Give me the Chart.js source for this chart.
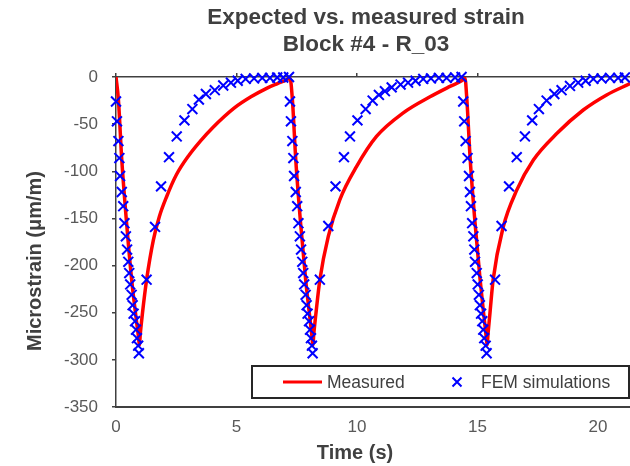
<!DOCTYPE html>
<html>
<head>
<meta charset="utf-8">
<title>Expected vs. measured strain</title>
<script src="https://cdn.jsdelivr.net/npm/chart.js@4.4.1/dist/chart.umd.min.js"></script>
<style>
    html, body { margin: 0; padding: 0; background: #fff; }
    canvas { display: block; }
</style>
</head>
<body>
<canvas id="strainChart" width="630" height="466"></canvas>
<script>
// Texts
const titleLines = ['Expected vs. measured strain', 'Block #4 - R_03']
const xTitle = 'Time (s)'
const yTitle = 'Microstrain (μm/m)'
const seriesNames = ['Measured', 'FEM simulations']

// Axis ranges
const xMin = 0
const xMax = 21.33
const xStep = 5
const yMin = -350
const yMax = 0
const yStep = 50

// Measured strain (red line), three load cycles
const measuredTime = [
    0.00, 0.10, 0.24, 0.44, 0.65, 0.86, 0.93, 0.97, 1.01, 1.10, 1.27, 1.55, 1.80, 2.10, 2.50, 3.00, 3.50, 4.00, 4.90, 5.60, 6.25, 6.70, 7.08, 7.22,
    7.32, 7.46, 7.66, 7.87, 8.07, 8.13, 8.17, 8.21, 8.30, 8.46, 8.81, 9.29, 9.98, 10.81, 11.92, 13.03, 13.86, 14.34, 14.48,
    14.56, 14.70, 14.90, 15.11, 15.30, 15.36, 15.40, 15.44, 15.52, 15.65, 16.07, 16.63, 17.32, 18.29, 19.39, 20.36, 21.33
]
const measuredStrain = [
    0, -24, -88, -155, -215, -261, -275, -284, -272, -250, -215, -173, -148, -127, -104, -84, -68, -54, -33, -21, -12, -7, -3, -1,
    -24, -88, -155, -215, -261, -275, -284, -272, -250, -215, -169, -130, -95, -63, -38, -21, -10, -4, -1,
    -24, -88, -155, -215, -261, -275, -284, -272, -250, -215, -159, -120, -88, -60, -35, -19, -7
]

// FEM simulations (blue crosses)
const femTime = [
    0.00, 0.04, 0.10, 0.14, 0.17, 0.24, 0.30, 0.35, 0.41, 0.46, 0.51, 0.55, 0.59, 0.65, 0.69, 0.73, 0.79, 0.83, 0.87, 0.92, 0.95,
    1.27, 1.62, 1.87, 2.20, 2.52, 2.84, 3.17, 3.44, 3.73, 4.10, 4.45, 4.77, 5.05, 5.38, 5.73, 6.07, 6.39, 6.69, 6.94, 7.18,
    7.22, 7.26, 7.32, 7.36, 7.39, 7.46, 7.52, 7.57, 7.63, 7.68, 7.73, 7.77, 7.81, 7.87, 7.91, 7.95, 8.01, 8.05, 8.09, 8.13, 8.16,
    8.46, 8.81, 9.11, 9.46, 9.71, 10.02, 10.36, 10.65, 10.91, 11.16, 11.44, 11.81, 12.12, 12.43, 12.75, 13.07, 13.40, 13.72, 14.07, 14.34,
    14.41, 14.45, 14.51, 14.59, 14.65, 14.69, 14.73, 14.78, 14.83, 14.87, 14.90, 14.97, 15.01, 15.06, 15.10, 15.15, 15.20, 15.24, 15.28, 15.34, 15.38,
    15.73, 16.00, 16.31, 16.63, 16.97, 17.27, 17.55, 17.87, 18.19, 18.49, 18.84, 19.18, 19.49, 19.81, 20.15, 20.50, 20.84, 21.12
]
const femStrain = [
    -26, -47, -68, -86, -105, -122, -137, -155, -169, -183, -196, -208, -220, -231, -242, -251, -259, -268, -277, -285, -293,
    -215, -159, -116, -85, -63, -46, -34, -24, -18, -14, -9, -6, -4, -2, -1.5, -1, -1, -0.5, -0.5, 0,
    -26, -47, -68, -86, -105, -122, -137, -155, -169, -183, -196, -208, -220, -231, -242, -251, -259, -268, -277, -285, -293,
    -215, -158, -116, -85, -63, -46, -34, -25, -19, -15, -11, -8, -6, -4, -2, -1.5, -1, -1, -0.5, 0,
    -26, -47, -68, -86, -105, -122, -137, -155, -169, -183, -196, -208, -220, -231, -242, -251, -259, -268, -277, -285, -293,
    -215, -158, -116, -85, -63, -46, -34, -25, -18, -14, -9.5, -6, -4, -2, -1.5, -1, -1, -0.5
]

// Styles
const FONT = '"Liberation Sans", Arial, sans-serif'
const red = '#ff0000'
const blue = '#0000ff'
const axisColor = '#404040'
const titleColor = '#404040'
const tickColor = '#595959'

const toPoints = (xs, ys) => xs.map((x, i) => ({ x: x, y: ys[i] }))

// Titles, axis titles and the boxed legend inside the plot
const decorPlugin = {
    id: 'decor',
    afterDraw(chart) {
        const ctx = chart.ctx
        const area = chart.chartArea
        ctx.save()

        // chart title
        ctx.fillStyle = titleColor
        ctx.textAlign = 'center'
        ctx.textBaseline = 'middle'
        ctx.font = 'bold 22.5px ' + FONT
        ctx.fillText(titleLines[0], 366, 18)
        ctx.fillText(titleLines[1], 366, 45)

        // axis titles
        ctx.font = 'bold 20px ' + FONT
        ctx.fillText(xTitle, 355, 453)
        ctx.translate(35, 261)
        ctx.rotate(-Math.PI / 2)
        ctx.fillText(yTitle, 0, 0)
        ctx.setTransform(1, 0, 0, 1, 0, 0)

        // legend
        const lx = 252, ly = 366, lw = area.right - 1 - 252, lh = 32
        ctx.fillStyle = '#ffffff'
        ctx.fillRect(lx, ly, lw, lh)
        ctx.strokeStyle = '#262626'
        ctx.lineWidth = 2
        ctx.strokeRect(lx, ly, lw, lh)

        const cy = ly + lh / 2
        ctx.strokeStyle = red
        ctx.lineWidth = 3
        ctx.beginPath()
        ctx.moveTo(283, cy)
        ctx.lineTo(322, cy)
        ctx.stroke()

        ctx.strokeStyle = blue
        ctx.lineWidth = 2
        const r = 4.5
        ctx.beginPath()
        ctx.moveTo(457 - r, cy - r)
        ctx.lineTo(457 + r, cy + r)
        ctx.moveTo(457 + r, cy - r)
        ctx.lineTo(457 - r, cy + r)
        ctx.stroke()

        ctx.fillStyle = titleColor
        ctx.textAlign = 'left'
        ctx.font = '17.5px ' + FONT
        ctx.fillText(seriesNames[0], 327, cy + 1)
        ctx.fillText(seriesNames[1], 481, cy + 1)
        ctx.restore()
    }
}

const tickFont = { family: FONT, size: 17 }

new Chart(document.getElementById('strainChart'), {
    type: 'scatter',
    data: {
        datasets: [
            {
                label: seriesNames[0],
                data: toPoints(measuredTime, measuredStrain),
                showLine: true,
                borderColor: red,
                backgroundColor: red,
                borderWidth: 3.5,
                pointRadius: 0,
                cubicInterpolationMode: 'monotone',
                order: 1
            },
            {
                label: seriesNames[1],
                data: toPoints(femTime, femStrain),
                showLine: false,
                pointStyle: 'crossRot',
                pointRadius: 7,
                borderColor: blue,
                backgroundColor: blue,
                pointBorderWidth: 2,
                clip: false,
                order: 0
            }
        ]
    },
    options: {
        responsive: false,
        animation: false,
        devicePixelRatio: 1,
        layout: { autoPadding: false, padding: { top: 73, left: 0, right: 0, bottom: 0 } },
        plugins: {
            legend: { display: false },
            title: { display: false },
            tooltip: { enabled: false }
        },
        scales: {
            x: {
                type: 'linear',
                position: 'bottom',
                min: xMin,
                max: xMax,
                ticks: { stepSize: xStep, includeBounds: false, padding: 10, color: tickColor, font: tickFont, maxRotation: 0 },
                grid: { display: false, drawTicks: false },
                border: { display: true, color: axisColor, width: 2 },
                afterFit: s => { s.height = 59 }
            },
            xTop: {
                type: 'linear',
                position: 'top',
                min: xMin,
                max: xMax,
                ticks: { stepSize: xStep, includeBounds: false, display: false },
                grid: { display: true, drawOnChartArea: false, drawTicks: true, tickLength: 4, color: axisColor, lineWidth: 1.5 },
                border: { display: true, color: axisColor, width: 1.5 },
                afterFit: s => { s.height = 4 }
            },
            y: {
                type: 'linear',
                min: yMin,
                max: yMax,
                ticks: { stepSize: yStep, padding: 14, color: tickColor, font: tickFont },
                grid: { display: true, drawOnChartArea: false, drawTicks: true, tickLength: 4, color: axisColor, lineWidth: 1.5 },
                border: { display: true, color: axisColor, width: 1.5 },
                afterFit: s => { s.width = 116 }
            }
        }
    },
    plugins: [decorPlugin]
})
</script>
</body>
</html>
